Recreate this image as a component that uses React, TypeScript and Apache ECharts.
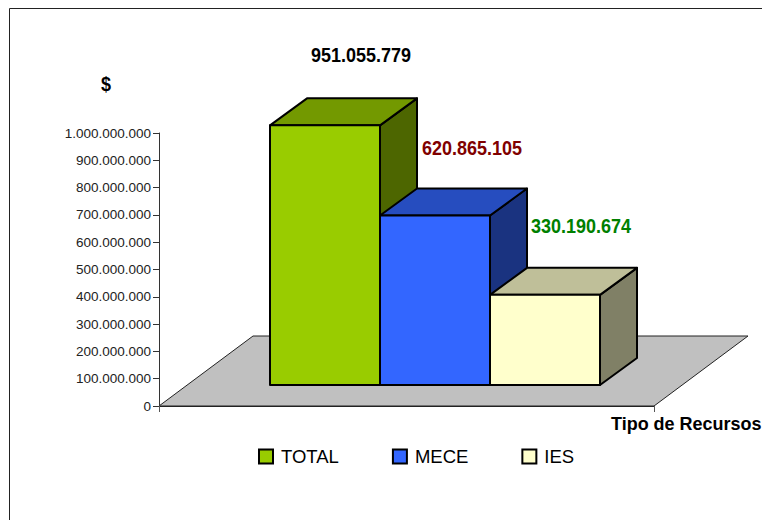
import React, { useEffect, useRef } from "react";
import * as echarts from "echarts";

const categoryLabels = ["Recursos"];
const seriesNames = ["TOTAL", "MECE", "IES"];
const seriesValues = [951055779, 620865105, 330190674];
const labelColors = ["#000000", "#800000", "#008000"];
const frontColors = ["#99CC00", "#3366FF", "#FFFFCC"];
const topColors = ["#739900", "#264DBF", "#BFBF99"];
const sideColors = ["#4D6600", "#1A3380", "#808066"];
const labelLiftY = [70, 67, 69];
const labelShiftX = [42, 43, 42];
const FONT = '"Liberation Sans", Arial, sans-serif';

const formatNumber = (v: number) =>
  String(Math.round(v)).replace(/\B(?=(\d{3})+(?!\d))/g, ".");

export default function App() {
  const ref = useRef<HTMLDivElement>(null);
  useEffect(() => {
    const chart = echarts.init(ref.current!, undefined, { renderer: "svg" });
    const depthX = 37;
    const depthY = 27;
    const floorDX = 94;
    const floorDY = 70;
    const planeDX = 28.5;
    const planeDY = 21;

    const barSeries = seriesNames.map((name, i) => ({
      type: "custom",
      name,
      z: 2 + i,
      clip: false,
      silent: true,
      itemStyle: { color: frontColors[i], borderColor: "#000", borderWidth: 2 },
      encode: { x: 0, y: 1 },
      data: [[0, seriesValues[i]]],
      renderItem: (_p: any, api: any) => {
        const band = api.size([1, 0])[0];
        const w = (band * 110) / 495;
        const c = api.coord([0, api.value(1)]);
        const b = api.coord([0, 0]);
        const x0 = c[0] + planeDX - w * 1.5 + i * w;
        const x1 = x0 + w;
        const yT = c[1] - planeDY;
        const yB = b[1] - planeDY;
        const line = { stroke: "#000", lineWidth: 2, lineJoin: "round" };
        return {
          type: "group",
          children: [
            {
              type: "polygon",
              shape: { points: [[x1, yT], [x1 + depthX, yT - depthY], [x1 + depthX, yB - depthY], [x1, yB]] },
              style: { fill: sideColors[i], ...line },
            },
            {
              type: "polygon",
              shape: { points: [[x0, yT], [x0 + depthX, yT - depthY], [x1 + depthX, yT - depthY], [x1, yT]] },
              style: { fill: topColors[i], ...line },
            },
            {
              type: "rect",
              shape: { x: x0, y: yT, width: w, height: yB - yT },
              style: { fill: frontColors[i], ...line },
            },
            {
              type: "text",
              x: x0 + labelShiftX[i] - 1,
              y: yT - labelLiftY[i],
              scaleY: 1.12,
              z2: 50,
              style: {
                text: formatNumber(api.value(1)),
                fill: labelColors[i],
                font: `bold 18px ${FONT}`,
                textAlign: "left",
                textVerticalAlign: "middle",
              },
            },
          ],
        };
      },
    }));

    chart.setOption({
      animation: false,
      backgroundColor: "#fff",
      grid: { left: 159, top: 133, width: 495, height: 273, containLabel: false },
      graphic: [
        {
          type: "polyline",
          shape: { points: [[9.5, 520], [9.5, 8.5], [762, 8.5]] },
          style: { stroke: "#222", lineWidth: 1, fill: "none" },
        },
        {
          type: "text",
          x: 106,
          y: 84,
          scaleY: 1.12,
          style: { text: "$", font: `bold 18px ${FONT}`, fill: "#000", textAlign: "center", textVerticalAlign: "middle" },
        },
        {
          type: "text",
          x: 611,
          y: 423,
          scaleY: 1.05,
          style: { text: "Tipo de Recursos", font: `bold 18px ${FONT}`, fill: "#000", textAlign: "left", textVerticalAlign: "middle" },
        },
      ],
      legend: {
        left: 258,
        top: 447,
        padding: 0,
        itemWidth: 14,
        itemHeight: 14,
        itemGap: 53,
        textStyle: { fontFamily: FONT, fontSize: 18.5, color: "#000", padding: [0, 0, 0, 3] },
        data: seriesNames.map((name, i) => ({
          name,
          icon: "rect",
          itemStyle: { color: frontColors[i], borderColor: "#000", borderWidth: 2 },
        })),
        selectedMode: false,
      },
      xAxis: {
        type: "category",
        data: categoryLabels,
        boundaryGap: true,
        z: 6,
        axisLine: { lineStyle: { color: "#222", width: 1 } },
        axisTick: { show: true, alignWithLabel: false, length: 6, lineStyle: { color: "#555" } },
        axisLabel: { show: false },
        splitLine: { show: false },
      },
      yAxis: {
        type: "value",
        min: 0,
        max: 1000000000,
        interval: 100000000,
        z: 6,
        axisLine: { show: true, lineStyle: { color: "#333", width: 1 } },
        axisTick: { show: true, length: 6, lineStyle: { color: "#333" } },
        axisLabel: {
          formatter: (v: number) => formatNumber(v),
          fontFamily: FONT,
          fontSize: 13.5,
          color: "#222",
          margin: 8,
        },
        splitLine: { show: false },
      },
      series: [
        {
          type: "custom",
          name: "floor",
          z: 1,
          silent: true,
          clip: false,
          data: [[0, 0]],
          encode: { x: 0, y: 1 },
          renderItem: (p: any) => {
            const { x, y, width, height } = p.coordSys;
            const yB = y + height;
            return {
              type: "polygon",
              shape: {
                points: [[x, yB], [x + floorDX, yB - floorDY], [x + width + floorDX, yB - floorDY], [x + width, yB]],
              },
              style: { fill: "#C0C0C0", stroke: "#222", lineWidth: 1 },
            };
          },
        },
        ...barSeries,
      ],
    });
    return () => chart.dispose();
  }, []);
  return <div ref={ref} style={{ position: "absolute", left: 0, top: 0, width: 762, height: 520 }} />;
}
